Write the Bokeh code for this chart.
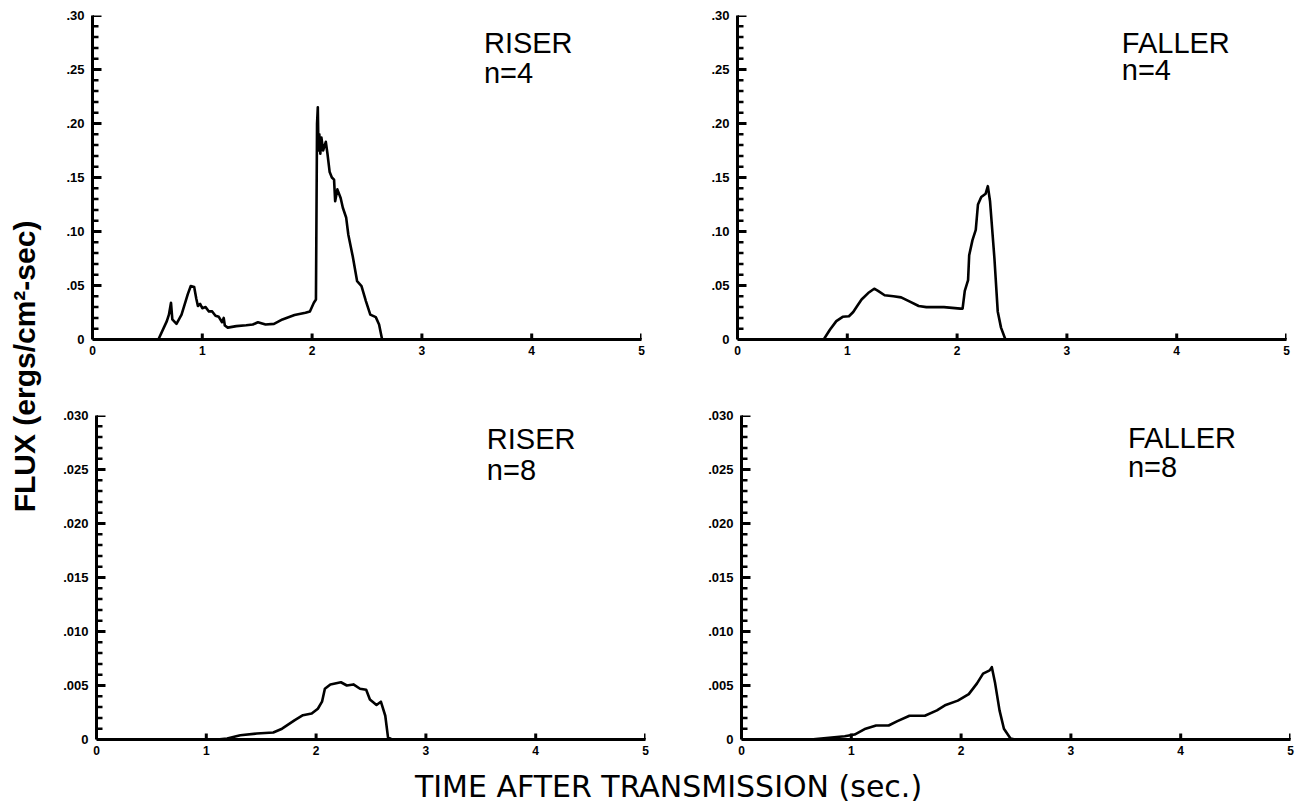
from bokeh.plotting import figure
from bokeh.models import Range1d, FixedTicker, Label
from bokeh.layouts import row, column
from bokeh.embed import file_html
from bokeh.resources import INLINE

# ---------------- data ----------------
x_ticks = [0, 1, 2, 3, 4, 5]

y4_ticks = [0, 0.05, 0.1, 0.15, 0.2, 0.25, 0.3]
y4_labels = ["0", ".05", ".10", ".15", ".20", ".25", ".30"]
y8_ticks = [0, 0.005, 0.01, 0.015, 0.02, 0.025, 0.03]
y8_labels = ["0", ".005", ".010", ".015", ".020", ".025", ".030"]

riser4_t = [0.0, 0.60, 0.677, 0.696, 0.715, 0.727, 0.765, 0.811, 0.868, 0.895, 0.926,
            0.945, 0.96, 0.98, 1.00, 1.03, 1.06, 1.09, 1.12, 1.15, 1.18, 1.195, 1.205,
            1.232, 1.31, 1.40, 1.46, 1.507, 1.576, 1.653, 1.73, 1.84, 1.94, 1.98, 2.016,
            2.035, 2.045, 2.052, 2.058, 2.066, 2.075, 2.085, 2.10, 2.125, 2.14, 2.16,
            2.18, 2.20, 2.21, 2.23, 2.26, 2.28, 2.31, 2.33, 2.37, 2.41, 2.45, 2.49, 2.53,
            2.58, 2.61, 2.636, 2.65, 5.0]
riser4_v = [0.0, 0.0, 0.017, 0.023, 0.034, 0.0186, 0.0145, 0.023, 0.042, 0.0495, 0.0486,
            0.038, 0.031, 0.033, 0.029, 0.030, 0.026, 0.026, 0.022, 0.021, 0.016, 0.020,
            0.013, 0.011, 0.0124, 0.0132, 0.0139, 0.016, 0.0139, 0.0145, 0.0186, 0.0226,
            0.0247, 0.026, 0.034, 0.037, 0.200, 0.215, 0.175, 0.190, 0.172, 0.187, 0.175,
            0.183, 0.172, 0.155, 0.150, 0.148, 0.128, 0.139, 0.131, 0.122, 0.113, 0.097,
            0.077, 0.054, 0.0495, 0.0356, 0.023, 0.0207, 0.0139, 0.001, 0.0, 0.0]

faller4_t = [0.0, 0.785, 0.843, 0.90, 0.958, 1.015, 1.054, 1.09, 1.13, 1.19, 1.245, 1.28,
             1.34, 1.42, 1.49, 1.57, 1.65, 1.72, 1.88, 2.03, 2.05, 2.07, 2.10, 2.11, 2.14,
             2.17, 2.19, 2.22, 2.26, 2.28, 2.30, 2.34, 2.37, 2.40, 2.44, 5.0]
faller4_v = [0.0, 0.0, 0.0092, 0.017, 0.021, 0.0215, 0.0255, 0.031, 0.037, 0.043, 0.047,
             0.045, 0.041, 0.040, 0.039, 0.035, 0.031, 0.030, 0.030, 0.0286, 0.0286, 0.045,
             0.055, 0.078, 0.092, 0.1015, 0.125, 0.132, 0.135, 0.142, 0.128, 0.075, 0.026,
             0.011, 0.0, 0.0]

riser8_t = [0.0, 1.10, 1.19, 1.31, 1.46, 1.61, 1.69, 1.806, 1.88, 1.96, 2.016, 2.054, 2.08,
            2.13, 2.226, 2.28, 2.34, 2.40, 2.456, 2.49, 2.55, 2.59, 2.63, 2.655, 2.69, 5.0]
riser8_v = [0.0, 0.0, 0.0001, 0.0004, 0.00055, 0.00065, 0.001, 0.0018, 0.00225, 0.0024,
            0.00285, 0.0035, 0.0047, 0.0051, 0.0053, 0.0050, 0.0051, 0.0047, 0.0046, 0.0037,
            0.0032, 0.0035, 0.0022, 0.0002, 0.0, 0.0]

faller8_t = [0.0, 0.63, 0.94, 1.03, 1.13, 1.226, 1.34, 1.42, 1.53, 1.67, 1.78, 1.86, 1.97,
             2.07, 2.145, 2.20, 2.26, 2.28, 2.31, 2.35, 2.39, 2.45, 2.49, 5.0]
faller8_v = [0.0, 0.0, 0.0003, 0.00046, 0.001, 0.0013, 0.0013, 0.0017, 0.0022, 0.0022,
             0.0027, 0.0032, 0.0036, 0.0042, 0.0052, 0.0061, 0.0064, 0.0067, 0.0052, 0.0027,
             0.001, 0.0001, 0.0, 0.0]

panel_names = ["RISER", "FALLER", "RISER", "FALLER"]
panel_n = ["n=4", "n=4", "n=8", "n=8"]

# ---------------- styling ----------------
FONT = "Liberation Sans"
FRAME_W, FRAME_H = 549, 324


def panel(t, v, yticks, ylabels, ystep, borders, name, nlab, lx, ly1, ly2):
    ymax = yticks[-1]
    bl, br, bt, bb = borders
    p = figure(frame_width=FRAME_W, frame_height=FRAME_H,
               x_range=Range1d(0, 5), y_range=Range1d(0, ymax),
               output_backend="svg", toolbar_location=None,
               min_border_left=bl, min_border_right=br,
               min_border_top=bt, min_border_bottom=bb)
    p.outline_line_color = None
    p.grid.visible = False
    p.background_fill_color = "white"
    p.border_fill_color = "white"

    minor = [i * ystep for i in range(31) if i % 5 != 0]

    # inner halves of the axis lines and inward tick marks (frame-clipped glyphs)
    p.ray(x=[0], y=[0], length=0, angle=90, angle_units="deg",
          line_color="black", line_width=3)
    p.ray(x=[0], y=[0], length=0, angle=0, angle_units="deg",
          line_color="black", line_width=3)
    p.ray(x=[0] * len(yticks), y=yticks, length=9, length_units="screen",
          angle=0, line_color="black", line_width=3)
    p.ray(x=[0] * len(minor), y=minor, length=6, length_units="screen",
          angle=0, line_color="black", line_width=2.5)
    p.ray(x=x_ticks, y=[0] * len(x_ticks), length=6, length_units="screen",
          angle=90, angle_units="deg", line_color="black", line_width=3)

    p.line(t, v, line_color="black", line_width=2.6, line_join="round")

    xa = p.xaxis[0]
    xa.ticker = FixedTicker(ticks=x_ticks, minor_ticks=[])
    xa.axis_line_width = 3
    xa.major_tick_in = 0
    xa.major_tick_out = 0
    xa.minor_tick_in = 0
    xa.minor_tick_out = 0
    xa.major_label_standoff = 6
    xa.major_label_text_font = FONT
    xa.major_label_text_font_style = "bold"
    xa.major_label_text_font_size = "12px"
    xa.major_label_text_color = "black"

    ya = p.yaxis[0]
    ya.ticker = FixedTicker(ticks=yticks, minor_ticks=minor)
    ya.major_label_overrides = dict(zip(yticks, ylabels))
    ya.axis_line_width = 3
    ya.major_tick_in = 0
    ya.major_tick_out = 0
    ya.minor_tick_in = 0
    ya.minor_tick_out = 0
    ya.major_label_standoff = 8
    ya.major_label_text_font = FONT
    ya.major_label_text_font_style = "bold"
    ya.major_label_text_font_size = "13px"
    ya.major_label_text_color = "black"

    for txt, yy in ((name, ly1), (nlab, ly2)):
        p.add_layout(Label(x=lx, y=yy, text=txt, text_font=FONT, text_font_size="29px",
                           text_color="black", text_baseline="alphabetic",
                           text_align="left"))
    return p


tl = panel(riser4_t, riser4_v, y4_ticks, y4_labels, 0.01, (32, 49, 15, 56),
           panel_names[0], panel_n[0], 3.565, 0.2750, 0.2472)
tr = panel(faller4_t, faller4_v, y4_ticks, y4_labels, 0.01, (47, 12, 15, 56),
           panel_names[1], panel_n[1], 3.50, 0.2750, 0.2491)
bl = panel(riser8_t, riser8_v, y8_ticks, y8_labels, 0.001, (32, 49, 20, 23),
           panel_names[2], panel_n[2], 3.555, 0.02787, 0.02500)
br = panel(faller8_t, faller8_v, y8_ticks, y8_labels, 0.001, (47, 12, 20, 23),
           panel_names[3], panel_n[3], 3.52, 0.02796, 0.02519)


def blank(w, h):
    f = figure(width=w, height=h, x_range=Range1d(0, w), y_range=Range1d(0, h),
               x_axis_type=None, y_axis_type=None, output_backend="svg",
               toolbar_location=None, min_border=0)
    f.outline_line_color = None
    f.grid.visible = False
    return f


ylab = blank(60, 803)
ylab.add_layout(Label(x=24, y=437, text="FLUX (ergs/cm\u00b2-sec)", angle=90,
                      angle_units="deg", text_font=FONT, text_font_style="bold",
                      text_font_size="30px", text_color="black",
                      text_align="center", text_baseline="alphabetic"))

xlab = blank(1238, 41)
xlab.add_layout(Label(x=608, y=17, text="TIME AFTER TRANSMISSION (sec.)",
                      text_font="DejaVu Sans", text_font_size="30px",
                      text_color="black", text_align="center",
                      text_baseline="alphabetic"))

layout = row(ylab, column(row(tl, tr), row(bl, br), xlab))

open("out.html", "w").write(file_html(layout, INLINE))
